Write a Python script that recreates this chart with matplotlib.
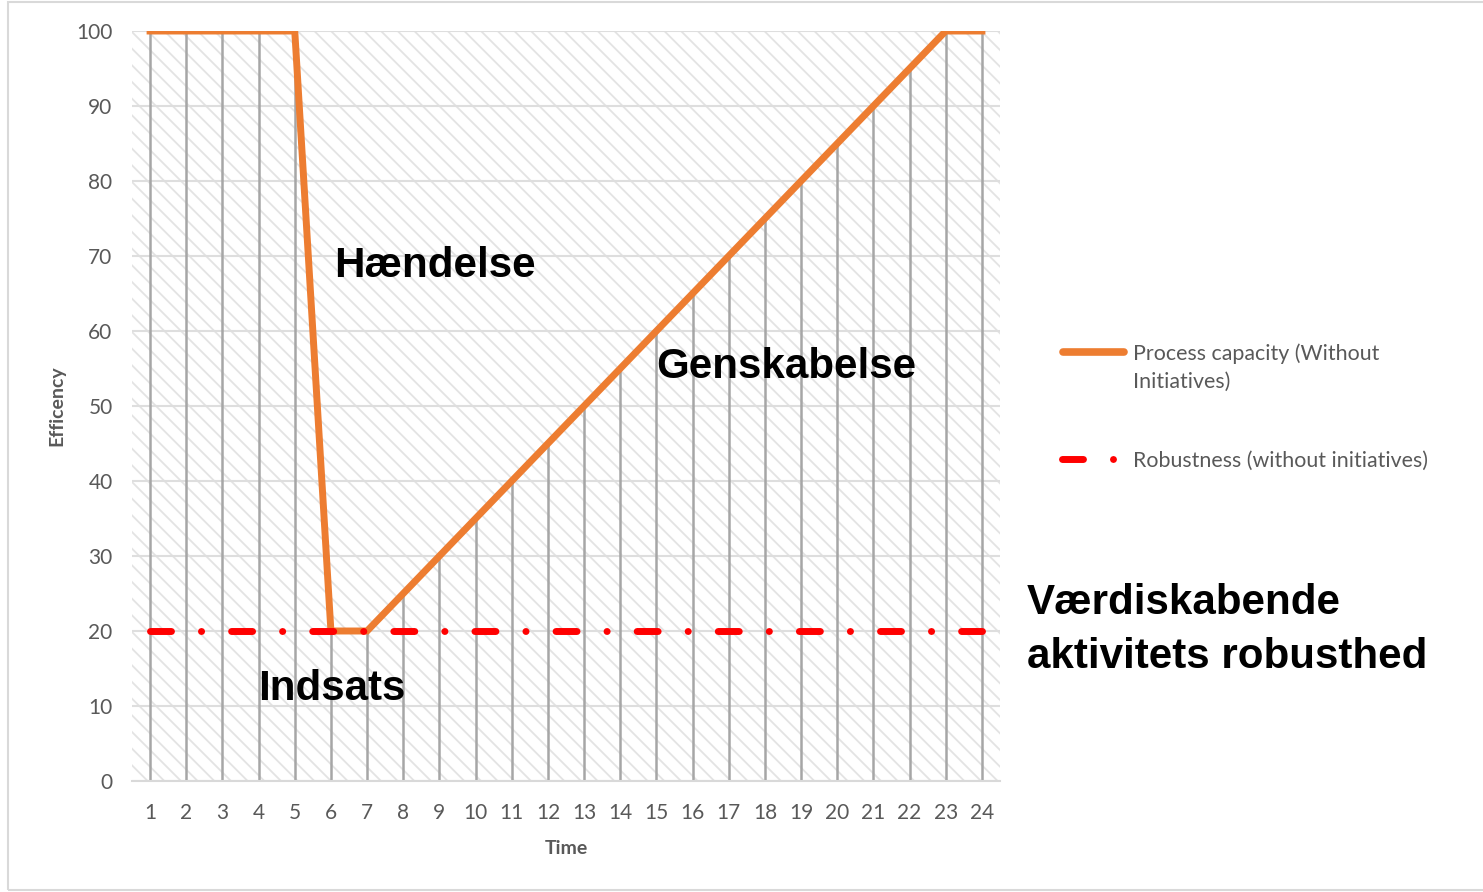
import numpy as np
import matplotlib
matplotlib.use('Agg')
import matplotlib.pyplot as plt
from matplotlib.lines import Line2D
from matplotlib.patches import Rectangle

plt.rcParams['hatch.linewidth'] = 1.3
plt.rcParams['lines.scale_dashes'] = False

# data
time = list(range(1, 25))
capacity = [100, 100, 100, 100, 100, 20, 20, 25, 30, 35, 40, 45,
            50, 55, 60, 65, 70, 75, 80, 85, 90, 95, 100, 100]
robustness = [20] * 24
yticks = list(range(0, 101, 10))

orange = '#ED7D31'
red = '#FF0000'
grey_txt = '#595959'
W, H = 1483, 892

fig = plt.figure(figsize=(W / 100, H / 100), dpi=100)
ax = fig.add_axes([132 / W, 1 - 781 / H, (1000 - 132) / W, (781 - 31) / H])

# hatched plot area
ax.patch.set_facecolor('white')
ax.patch.set_hatch('\\\\')
ax.patch.set_edgecolor('#e3e3e3')

ax.set_xlim(0.5, 24.5)
ax.set_ylim(0, 100)
ax.set_yticks(yticks)
ax.set_xticks(time)
ax.grid(axis='y', color='#dedede', lw=1.5)
ax.set_axisbelow(True)
for s in ['top', 'right', 'left']:
    ax.spines[s].set_visible(False)
ax.spines['bottom'].set_color('#d9d9d9')
ax.spines['bottom'].set_linewidth(1.5)
ax.tick_params(length=0, labelsize=15, labelcolor=grey_txt)
ax.tick_params(axis='y', pad=14)
ax.tick_params(axis='x', pad=16)
for lab in ax.get_xticklabels() + ax.get_yticklabels():
    lab.set_fontfamily('Lato')

# drop lines
dmax = np.maximum(capacity, robustness)
ax.vlines(time, 0, dmax, color='#a6a6a6', lw=1.8, zorder=2)

ax.plot(time, capacity, color=orange, lw=5, zorder=3, solid_joinstyle='miter')
ax.plot(time, robustness, color=red, lw=5, zorder=4,
        dashes=(15.1, 21.6, 0.1, 21.6), dash_capstyle='round')

ax.set_ylabel('Efficency', fontsize=14, fontweight='bold', color=grey_txt, family='Lato')
ax.set_xlabel('Time', fontsize=14, fontweight='bold', color=grey_txt, family='Lato')
ax.yaxis.set_label_coords(-0.077, 0.5)
ax.xaxis.set_label_coords(0.5, -0.078)

big = dict(fontsize=30.3, fontweight='bold', family='Liberation Sans', color='black')
ax.text(6.1, 68.7, 'Hændelse', ha='left', va='center', **big)
ax.text(15.0, 55.2, 'Genskabelse', ha='left', va='center', **big)
ax.text(4.0, 12.3, 'Indsats', ha='left', va='center', **big)
fig.text(1027 / W, 1 - 630 / H, 'Værdiskabende\naktivitets robusthed',
         ha='left', va='center', linespacing=1.45, **big)

# legend
fig.add_artist(Line2D([1063 / W, 1124 / W], [1 - 352 / H] * 2, color=orange,
                      lw=5.5, solid_capstyle='round'))
fig.text(1133 / W, 1 - 368 / H, 'Process capacity (Without\nInitiatives)',
         ha='left', va='center', fontsize=15.4, color=grey_txt, family='Lato',
         linespacing=1.5)
fig.add_artist(Line2D([1061.5 / W, 1113 / W], [1 - 459 / H] * 2, color=red,
                      lw=5, dashes=(15.1, 21.6, 0.1, 21.6), dash_capstyle='round'))
fig.text(1133 / W, 1 - 461 / H, 'Robustness (without initiatives)',
         ha='left', va='center', fontsize=15.4, color=grey_txt, family='Lato')

# outer frame
fig.add_artist(Rectangle((8 / W, 1 - 890 / H), 1.0, (890 - 2) / H,
                         transform=fig.transFigure, fill=False,
                         edgecolor='#d9d9d9', lw=1.5))

fig.savefig('out.png', dpi=100)
